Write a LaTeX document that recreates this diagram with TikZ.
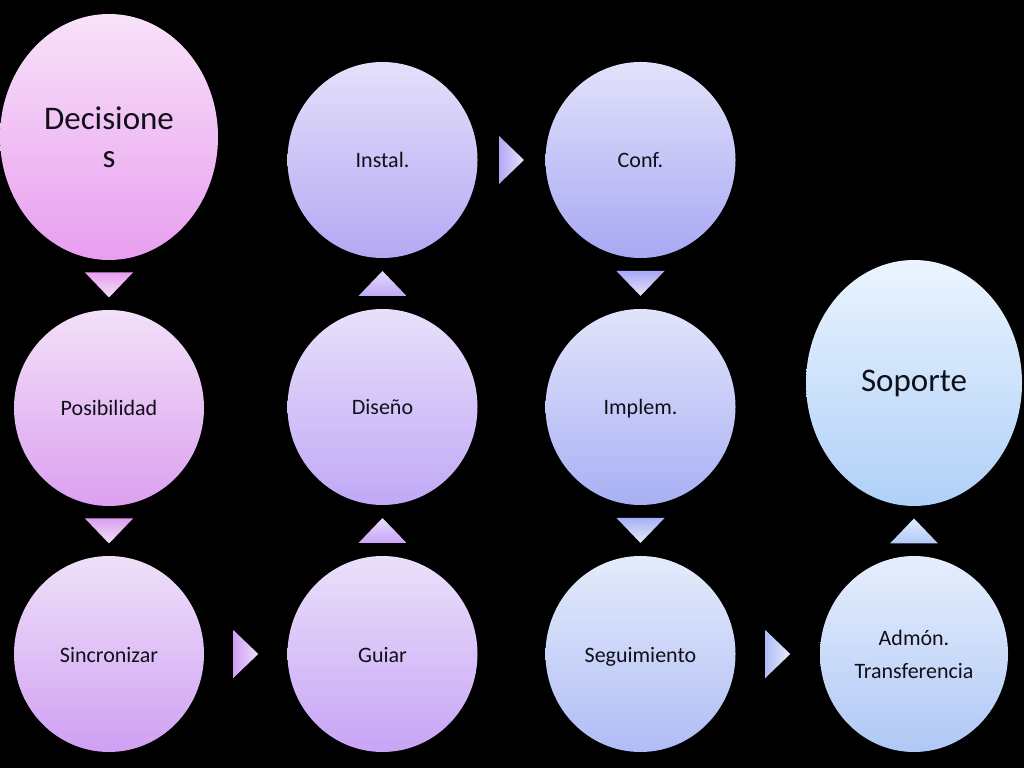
\documentclass[tikz,border=0pt]{standalone}
\usepackage{fontspec}
\setmainfont{Carlito}
\usetikzlibrary{shapes.geometric,calc}
\definecolor{decT}{HTML}{F8E2F8}\definecolor{decB}{HTML}{E89EF0}
\definecolor{posT}{HTML}{F2E0F8}\definecolor{posB}{HTML}{DCA0F0}
\definecolor{sinT}{HTML}{EEE0F8}\definecolor{sinB}{HTML}{D0A0F4}
\definecolor{guiT}{HTML}{EAE0FA}\definecolor{guiB}{HTML}{C8A4F6}
\definecolor{disT}{HTML}{E8E0FA}\definecolor{disB}{HTML}{C0A8F6}
\definecolor{insT}{HTML}{E4E0FA}\definecolor{insB}{HTML}{B4A8F4}
\definecolor{conT}{HTML}{E2E2FA}\definecolor{conB}{HTML}{A8A8F4}
\definecolor{impT}{HTML}{E2E4FA}\definecolor{impB}{HTML}{A8B0F4}
\definecolor{segT}{HTML}{E4ECFA}\definecolor{segB}{HTML}{B0BCF6}
\definecolor{admT}{HTML}{E6EEFC}\definecolor{admB}{HTML}{B0C8F6}
\definecolor{sopT}{HTML}{EAF4FE}\definecolor{sopB}{HTML}{B0D0F8}
\definecolor{txt}{HTML}{10101A}
\tikzset{
  bub/.style={ellipse, inner sep=0pt, outer sep=0pt, text=txt, align=center,
    minimum width=190pt, minimum height=196pt, font=\fontsize{22}{33}\selectfont},
  one/.style={bub, text height=18pt, text depth=2pt},
  big/.style={bub, font=\fontsize{33}{38}\selectfont},
  tri/.style={draw=none}
}
\begin{document}
\begin{tikzpicture}[x=1pt,y=1pt]
\fill[black] (0,0) rectangle (1024,768);
\useasboundingbox (0,0) rectangle (1024,768);
% bubbles
\node[big, minimum width=218pt, minimum height=246pt, top color=decT, bottom color=decB] (dec) at (109,631) {Decisione\\s};
\node[one, top color=posT, bottom color=posB] (pos) at (109,360) {Posibilidad};
\node[one, top color=sinT, bottom color=sinB] (sin) at (109,114) {Sincronizar};
\node[one, top color=guiT, bottom color=guiB] (gui) at (382.5,114) {Guiar};
\node[one, top color=disT, bottom color=disB] (dis) at (382.5,361) {Diseño};
\node[one, top color=insT, bottom color=insB] (ins) at (382.5,608) {Instal.};
\node[one, top color=conT, bottom color=conB] (con) at (640.5,608) {Conf.};
\node[one, top color=impT, bottom color=impB] (imp) at (640.5,361) {Implem.};
\node[one, top color=segT, bottom color=segB] (seg) at (640.5,114) {Seguimiento};
\node[bub, minimum width=188pt, top color=admT, bottom color=admB] (adm) at (914,114) {Admón.\\Transferencia};
\node[big, minimum width=216pt, minimum height=246pt, top color=sopT, bottom color=sopB] (sop) at (914,385) {\raisebox{1pt}{Soporte}};
% down arrows
\path[tri, top color=decB, bottom color=posT] ($(dec.south)!.5!(pos.north)$) ++(-24,12.5) -- ++(48,0) -- ++(-24,-25) -- cycle;
\path[tri, top color=posB, bottom color=sinT] ($(pos.south)!.5!(sin.north)$) ++(-24,12.5) -- ++(48,0) -- ++(-24,-25) -- cycle;
\path[tri, top color=conB, bottom color=impT] ($(con.south)!.5!(imp.north)$) ++(-24,12.5) -- ++(48,0) -- ++(-24,-25) -- cycle;
\path[tri, top color=impB, bottom color=segT] ($(imp.south)!.5!(seg.north)$) ++(-24,12.5) -- ++(48,0) -- ++(-24,-25) -- cycle;
% up arrows
\path[tri, top color=disB!40!white, bottom color=guiB] ($(gui.north)!.5!(dis.south)$) ++(-24,-12.5) -- ++(48,0) -- ++(-24,25) -- cycle;
\path[tri, top color=insB!40!white, bottom color=disB] ($(dis.north)!.5!(ins.south)$) ++(-24,-12.5) -- ++(48,0) -- ++(-24,25) -- cycle;
\path[tri, top color=sopB!40!white, bottom color=admB] ($(adm.north)!.5!(sop.south)$) ++(-24,-12.5) -- ++(48,0) -- ++(-24,25) -- cycle;
% right arrows
\path[tri, left color=sinB, right color=guiT] ($(sin.east)!.5!(gui.west)$) ++(-12.5,24) -- ++(0,-48) -- ++(25,24) -- cycle;
\path[tri, left color=insB, right color=conT] ($(ins.east)!.5!(con.west)$) ++(-12.5,24) -- ++(0,-48) -- ++(25,24) -- cycle;
\path[tri, left color=segB, right color=admT] ($(seg.east)!.5!(adm.west)$) ++(-12.5,24) -- ++(0,-48) -- ++(25,24) -- cycle;
\end{tikzpicture}
\end{document}
